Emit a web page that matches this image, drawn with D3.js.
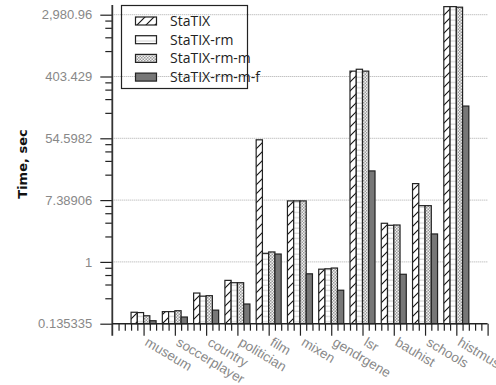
<!DOCTYPE html>
<html>
<head>
<meta charset="utf-8">
<script src="https://cdn.jsdelivr.net/npm/d3@7"></script>
<style>
  body { margin: 0; background: #fff; }
  svg { display: block; font-family: "Open Sans", "DejaVu Sans", sans-serif; }
</style>
</head>
<body>
<div id="chart"></div>
<script>
/* categories along the x axis */
var categories = ["museum", "soccerplayer", "country", "politician", "film", "mixen",
                  "gendrgene", "lsr", "bauhist", "schools", "histmuseum"];

/* series names (legend order) */
var seriesNames = ["StaTIX", "StaTIX-rm", "StaTIX-rm-m", "StaTIX-rm-m-f"];

/* time in seconds per category, one array per series */
var statix     = [0.196, 0.200, 0.365, 0.55, 52, 7.2, 0.79, 480, 3.49, 12.6, 3870];
var statixRm   = [0.194, 0.200, 0.330, 0.51, 1.32, 7.2, 0.80, 510, 3.27, 6.17, 3870];
var statixRmM  = [0.175, 0.206, 0.335, 0.51, 1.38, 7.2, 0.82, 480, 3.30, 6.17, 3800];
var statixRmMF = [0.149, 0.168, 0.210, 0.256, 1.29, 0.68, 0.40, 19, 0.67, 2.47, 155];

/* y tick values (powers of e) and their labels */
var yTickValues = [Math.exp(-2), Math.exp(0), Math.exp(2), Math.exp(4), Math.exp(6), Math.exp(8)];
var yTickLabels = ["0.135335", "1", "7.38906", "54.5982", "403.429", "2,980.96"];

var seriesValues = [statix, statixRm, statixRmM, statixRmMF];

var W = 496, H = 385;
var plot = {left: 112.3, right: 487.6, top: 5, bottom: 323.7};

var svg = d3.select("#chart").append("svg")
  .attr("width", W).attr("height", H);

/* patterns for the bars */
var defs = svg.append("defs");

var p1 = defs.append("pattern").attr("id", "pHatch")
  .attr("patternUnits", "userSpaceOnUse").attr("width", 9).attr("height", 9);
p1.append("rect").attr("width", 9).attr("height", 9).attr("fill", "#fff");
p1.append("path").attr("d", "M-1,10 L10,-1 M-2,2 L2,-2 M7,11 L11,7")
  .attr("stroke", "#111").attr("stroke-width", 1.1);

var p2 = defs.append("pattern").attr("id", "pLines")
  .attr("patternUnits", "userSpaceOnUse").attr("width", 6).attr("height", 5.2);
p2.append("rect").attr("width", 6).attr("height", 5.2).attr("fill", "#fff");
p2.append("line").attr("x1", 0).attr("x2", 6).attr("y1", 4.5).attr("y2", 4.5)
  .attr("stroke", "#bbb").attr("stroke-width", 0.8);

var p3 = defs.append("pattern").attr("id", "pCheck")
  .attr("patternUnits", "userSpaceOnUse").attr("width", 3).attr("height", 3);
p3.append("rect").attr("width", 3).attr("height", 3).attr("fill", "#f2f2f2");
p3.append("rect").attr("width", 1.5).attr("height", 1.5).attr("fill", "#9a9a9a");
p3.append("rect").attr("x", 1.5).attr("y", 1.5).attr("width", 1.5).attr("height", 1.5).attr("fill", "#9a9a9a");

var fills = ["url(#pHatch)", "url(#pLines)", "url(#pCheck)", "#777"];

/* scales */
var x = d3.scaleLinear().domain([-1, categories.length]).range([plot.left, plot.right]);
var pitch = x(1) - x(0);
var bw = pitch / 5;
var y = d3.scaleLog()
  .domain([Math.exp(-2), Math.exp(-2 + (plot.bottom - plot.top) / 30.9)])
  .range([plot.bottom, plot.top]);

/* grid lines */
svg.append("g")
  .selectAll("line").data(yTickValues.slice(1)).enter().append("line")
  .attr("x1", plot.left).attr("x2", plot.right)
  .attr("y1", function(d) { return y(d); }).attr("y2", function(d) { return y(d); })
  .attr("stroke", "#aaa").attr("stroke-width", 1).attr("stroke-dasharray", "1,1");

/* bars */
seriesValues.forEach(function(vals, si) {
  svg.append("g").selectAll("rect").data(vals).enter().append("rect")
    .attr("x", function(d, i) { return x(i) + (si - 2) * bw; })
    .attr("width", bw)
    .attr("y", function(d) { return y(d); })
    .attr("height", function(d) { return plot.bottom - y(d); })
    .attr("fill", fills[si])
    .attr("stroke", "#222").attr("stroke-width", 1.2);
});

/* y axis with minor ticks */
var minorY = [];
yTickValues.slice(0, -1).forEach(function(m) {
  for (var k = 1; k <= 4; k++) minorY.push(m * (1 + k * (Math.E * Math.E - 1) / 5));
});
svg.append("g")
  .attr("transform", "translate(" + plot.left + ",0)")
  .call(d3.axisLeft(y).tickValues(minorY).tickSize(7).tickFormat(""))
  .call(function(g) { g.select(".domain").remove(); })
  .selectAll("line").attr("stroke", "#222").attr("stroke-width", 1.2);

var yAxis = svg.append("g")
  .attr("transform", "translate(" + plot.left + ",0)")
  .call(d3.axisLeft(y).tickValues(yTickValues).tickSize(12).tickSizeOuter(0)
    .tickFormat(function(d, i) { return yTickLabels[i]; }));
yAxis.select(".domain").remove();
yAxis.selectAll(".tick line").attr("stroke", "#222").attr("stroke-width", 1.2);
yAxis.selectAll(".tick text").attr("fill", "#888").style("font-size", "13px").attr("x", -20);
svg.append("line")
  .attr("x1", plot.left).attr("x2", plot.left).attr("y1", plot.top).attr("y2", plot.bottom + 12)
  .attr("stroke", "#333").attr("stroke-width", 1.8);

/* x axis: minor ticks per bar slot, major at category centres */
var minorX = d3.range(-1, categories.length + 0.01, 0.2).filter(function(v) {
  return Math.abs(v - Math.round(v)) > 0.05;
});
svg.append("g")
  .attr("transform", "translate(0," + plot.bottom + ")")
  .call(d3.axisBottom(x).tickValues(minorX).tickSize(7).tickFormat(""))
  .call(function(g) { g.select(".domain").remove(); })
  .selectAll("line").attr("stroke", "#222").attr("stroke-width", 1.2);

var xAxis = svg.append("g")
  .attr("transform", "translate(0," + plot.bottom + ")")
  .call(d3.axisBottom(x).tickValues(d3.range(0, categories.length + 1)).tickSize(12).tickSizeOuter(0)
    .tickFormat(function(d) { return categories[d] || ""; }));
xAxis.select(".domain").attr("stroke", "#222").attr("stroke-width", 1.5)
  .attr("d", "M" + plot.left + ",0H" + plot.right);
xAxis.selectAll(".tick line").attr("stroke", "#222").attr("stroke-width", 1.2);
xAxis.selectAll(".tick text")
  .attr("fill", "#888").style("font-size", "13.5px")
  .attr("text-anchor", "start")
  .attr("y", 0).attr("dy", "0")
  .attr("transform", "translate(0,21) rotate(31)");

/* y axis title */
svg.append("text")
  .attr("transform", "translate(27,164) rotate(-90)")
  .attr("text-anchor", "middle")
  .style("font-family", "'DejaVu Sans', sans-serif")
  .style("font-weight", "bold").style("font-size", "13px")
  .attr("fill", "#111")
  .text("Time, sec");

/* legend */
var legend = svg.append("g");
legend.append("rect")
  .attr("x", 121.5).attr("y", 5.5).attr("width", 126).attr("height", 83)
  .attr("fill", "none").attr("stroke", "#222").attr("stroke-width", 1.2);
seriesNames.forEach(function(name, i) {
  var cy = 21 + i * 18.7;
  legend.append("rect")
    .attr("x", 135.5).attr("y", cy - 4).attr("width", 21).attr("height", 8)
    .attr("fill", fills[i]).attr("stroke", "#222").attr("stroke-width", 1.2);
  legend.append("text")
    .attr("x", 170).attr("y", cy).attr("dy", "0.35em")
    .style("font-size", "14px").attr("fill", "#222")
    .text(name);
});
</script>
</body>
</html>
